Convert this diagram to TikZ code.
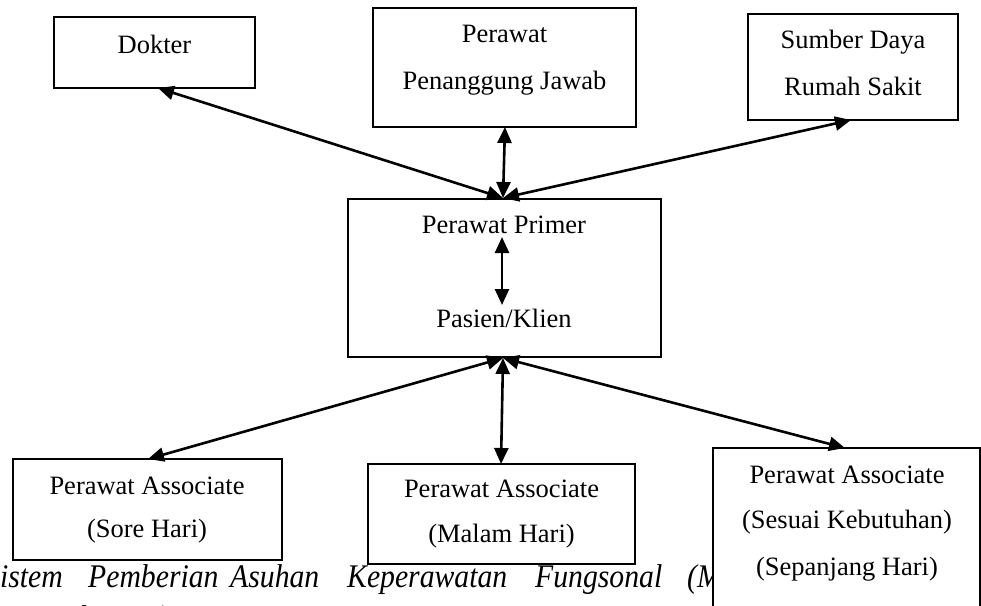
\documentclass[tikz,border=0pt]{standalone}
\usepackage{fontspec}
\setmainfont{Liberation Serif}
\newfontfamily\capfont[FakeStretch=0.9]{Liberation Serif Italic}
\usetikzlibrary{arrows.meta}
\begin{document}
\begin{tikzpicture}[x=1pt,y=-1pt,
  box/.style={draw, line width=1.3pt, fill=white},
  lbl/.style={anchor=base, inner sep=0pt, font=\fontsize{26.5}{30}\selectfont},
  captext/.style={anchor=base west, inner sep=0pt, font=\capfont\fontsize{33}{36}\selectfont},
  link/.style={line width=2.6pt, {Triangle[length=16pt,width=14pt]}-{Triangle[length=16pt,width=14pt]}}]
\useasboundingbox (0,0) rectangle (981,605);
\clip (0,0) rectangle (981,605);
\fill[white] (0,0) rectangle (981,605);

% caption under the lower row (partly hidden by the right-hand box)
\node[captext] (c1) at (-15,587) {Sistem};
\node[captext] (c2) at (88,587) {Pemberian};
\node[captext] (c3) at (230,587) {Asuhan};
\node[captext] (c4) at (347,587) {Keperawatan};
\node[captext] (c5) at (535,587) {Fungsonal};
\node[captext] (c6) at (687,587) {(Marquis};
\node[captext] (c7) at (35,628) {et al, 2011)};

% boxes
\path[box] (54,17) rectangle (255,88);
\node[lbl] (dok) at (154.5,53) {Dokter};

\path[box] (373,8) rectangle (636,127);
\node[lbl] (ppj1) at (504.5,42) {Perawat};
\node[lbl] (ppj2) at (504.5,89) {Penanggung Jawab};

\path[box] (748,14) rectangle (958,120);
\node[lbl] (sd1) at (853,48) {Sumber Daya};
\node[lbl] (sd2) at (853,95) {Rumah Sakit};

\path[box] (348,199) rectangle (661,357);
\node[lbl] (pp) at (504,233) {Perawat Primer};
\node[lbl] (pk) at (504,327) {Pasien/Klien};

\path[box] (13,459) rectangle (282,560);
\node[lbl] (a1) at (147,494) {Perawat Associate};
\node[lbl] (a1b) at (147,537) {(Sore Hari)};

\path[box] (368,464) rectangle (635,564);
\node[lbl] (a2) at (501.5,497) {Perawat Associate};
\node[lbl] (a2b) at (501.5,542) {(Malam Hari)};

\path[box] (713,448) rectangle (980,640);
\node[lbl] (a3) at (847,483) {Perawat Associate};
\node[lbl] (a3b) at (847,528) {(Sesuai Kebutuhan)};
\node[lbl] (a3c) at (847,575) {(Sepanjang Hari)};

% connector end points on the box edges
\coordinate (hubT) at (503,198);
\coordinate (hubB) at (503,358);
\coordinate (dokB) at (158,88);
\coordinate (ppjB) at (505,127);
\coordinate (sdB) at (851,120);
\coordinate (inT) at (502,237);
\coordinate (inB) at (502,305);
\coordinate (a1T) at (148,459);
\coordinate (a2T) at (501,464);
\coordinate (a3T) at (845,448);

% connectors
\draw[link] (hubT) -- (dokB);
\draw[link] (hubT) -- (ppjB);
\draw[link] (hubT) -- (sdB);
\draw[link] (inT) -- (inB);
\draw[link] (hubB) -- (a1T);
\draw[link] (hubB) -- (a2T);
\draw[link] (hubB) -- (a3T);
\end{tikzpicture}
\end{document}
